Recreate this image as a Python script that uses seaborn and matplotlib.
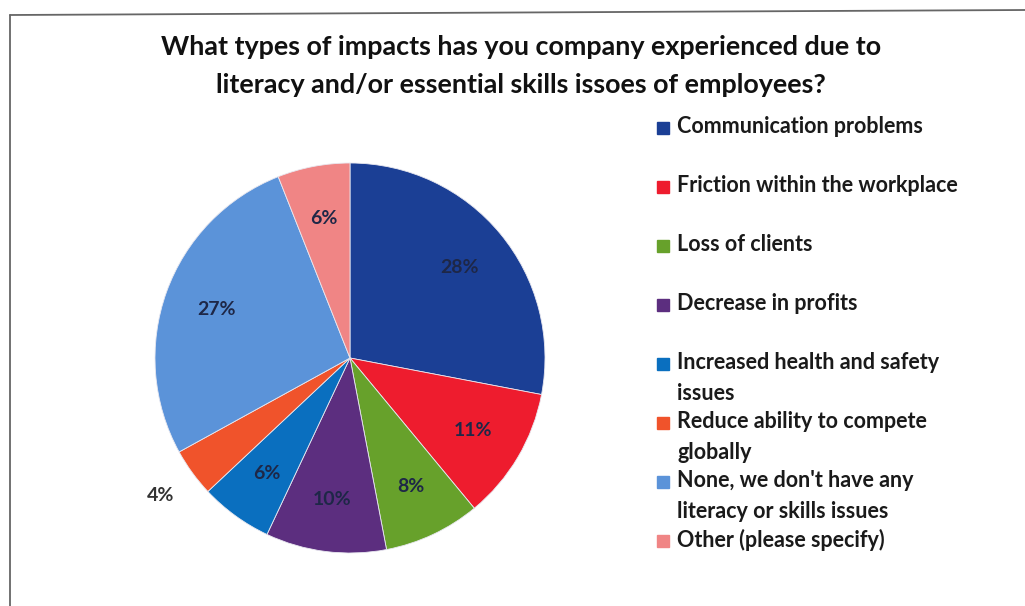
import matplotlib
matplotlib.use("Agg")
import matplotlib.pyplot as plt
from matplotlib.patches import Rectangle
from matplotlib.lines import Line2D
import numpy as np
import seaborn as sns

sns.set_theme(style="white")
plt.rcParams["font.family"] = ["Lato", "DejaVu Sans"]

title = ("What types of impacts has you company experienced due to\n"
         "literacy and/or essential skills issoes of employees?")

categories = [
    "Communication problems",
    "Friction within the workplace",
    "Loss of clients",
    "Decrease in profits",
    "Increased health and safety\nissues",
    "Reduce ability to compete\nglobally",
    "None, we don't have any\nliteracy or skills issues",
    "Other (please specify)",
]
shares = [28, 11, 8, 10, 6, 4, 27, 6]
colors = ["#1b3f95", "#ee1c2e", "#67a12b", "#5c2e7f",
          "#0a6fbf", "#f0532b", "#5b93d9", "#f08585"]

W, H = 1025, 606
fig = plt.figure(figsize=(W / 100, H / 100), dpi=100)

# pie axes: centre (350, 358) px, radius 195 px
cx, cy, r = 350, 358, 195
ax = fig.add_axes([(cx - r) / W, (H - cy - r) / H, 2 * r / W, 2 * r / H])
wedges, texts, autotexts = ax.pie(
    shares, colors=colors, startangle=90, counterclock=False,
    autopct=lambda p: f"{p:.0f}%", pctdistance=0.73,
    wedgeprops=dict(edgecolor="#e8e8f0", linewidth=0.6),
    textprops=dict(fontsize=14, fontweight="bold", color="#1e2747"),
)
ax.set_xlim(-1, 1)
ax.set_ylim(-1, 1)
ax.set_aspect("equal")
ax.axis("off")

# small slice label sits outside the pie
w = wedges[5]
mid = np.deg2rad((w.theta1 + w.theta2) / 2)
autotexts[5].set_position((1.2 * np.cos(mid), 1.2 * np.sin(mid)))
autotexts[5].set_color("#333333")

fig.text(0.508, 1 - 66 / H, title, ha="center", va="center",
         fontsize=19.4, fontweight="bold", color="#111111", linespacing=1.7)

# legend column
x_sq, x_txt = 663, 677
y0, step = 128, 59
for i, (lab, col) in enumerate(zip(categories, colors)):
    y = y0 + i * step
    fig.patches.append(Rectangle(((x_sq - 6) / W, 1 - (y + 6) / H), 12 / W, 12 / H,
                                 transform=fig.transFigure, color=col))
    fig.text(x_txt / W, 1 - (y - 12) / H, lab, ha="left", va="top",
             fontsize=15.5, fontweight="bold", color="#1a1a1a", linespacing=1.6)

# chart frame
fig.add_artist(Line2D([10 / W, 10 / W], [0, 1 - 15 / H], transform=fig.transFigure,
                      color="#666666", linewidth=1.3))
fig.add_artist(Line2D([10 / W, 1], [1 - 15 / H, 1 - 10 / H], transform=fig.transFigure,
                      color="#666666", linewidth=1.3))

fig.savefig("out.png", dpi=100, facecolor="white")
